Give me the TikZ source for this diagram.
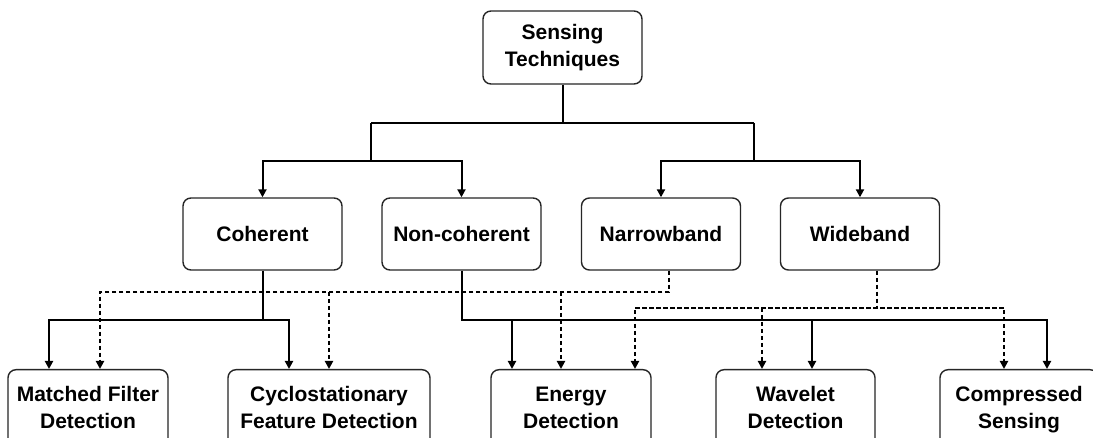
\documentclass[tikz,border=0pt]{standalone}
\usepackage{fontspec}
\usetikzlibrary{arrows.meta}
\newfontfamily\labelfont{Liberation Sans}
% two centred lines, raised by #1
\newcommand{\boxlines}[3]{\raisebox{#1}{\begin{tabular}{@{}c@{}}#2\\#3\end{tabular}}}

\begin{document}
\begin{tikzpicture}[x=1pt,y=-1pt,
  box/.style={draw=black!85, line width=1.4pt, rounded corners=8pt,
    minimum width=159pt, minimum height=72pt, inner sep=0pt, align=center,
    font=\labelfont\bfseries\fontsize{21}{27}\selectfont},
  leaf/.style={box, anchor=north, minimum height=80pt},
  link/.style={line width=2pt, black},
  hint/.style={line width=2pt, black, dash pattern=on 4pt off 3pt},
  tip/.style={-{Triangle[length=8pt,width=8pt]}}
]
\fill[white] (0,0) rectangle (1093,438);
\useasboundingbox (0,0) rectangle (1093,438);
\clip (0,0) rectangle (1093,438);

% boxes
\node[box, minimum height=73pt] (root) at (562.5,47.5) {\boxlines{-2.6pt}{Sensing}{Techniques}};
\node[box] (coh) at (262.5,234) {Coherent};
\node[box] (non) at (461.5,234) {Non-coherent};
\node[box] (nar) at (661,234) {Narrowband};
\node[box] (wid) at (860,234) {Wideband};

\node[leaf, minimum width=160pt] (mf)  at (88,369)   {\boxlines{7pt}{Matched Filter}{Detection}};
\node[leaf, minimum width=202pt] (cyc) at (329,369)  {\boxlines{2pt}{Cyclostationary}{Feature Detection}};
\node[leaf, minimum width=160pt] (en)  at (571,369)  {\boxlines{2pt}{Energy}{Detection}};
\node[leaf]                      (wav) at (795.5,369){\boxlines{2pt}{Wavelet}{Detection}};
\node[leaf, minimum width=158pt] (cs)  at (1019,369) {\boxlines{2pt}{Compressed}{Sensing}};

% root splits into two pairs
\coordinate (tl)  at (371,123);
\coordinate (tr)  at (754,123);
\coordinate (tlj) at (371,161);
\coordinate (trj) at (754,161);
\draw[link] (root.south) -- (root.south |- tl);
\draw[link] (tl) -- (tr);
\draw[link] (tl) -- (tlj);
\draw[link] (tr) -- (trj);
\draw[link,tip] (tlj) -| (coh.north);
\draw[link,tip] (tlj) -| (non.north);
\draw[link,tip] (trj) -| (nar.north);
\draw[link,tip] (trj) -| (wid.north);

% coherent methods
\coordinate (cL) at (49,320);
\coordinate (cR) at (289,320);
\draw[link] (coh.south) -- (coh.south |- cL);
\draw[link,tip] (cR) -- (cL) -- (cL |- mf.north);
\draw[link,tip] (cL) -- (cR) -- (cR |- cyc.north);

% non-coherent methods
\coordinate (nE) at (512,320);
\coordinate (nW) at (812,320);
\coordinate (nC) at (1047,320);
\draw[link,tip] (non.south) |- (nC) -- (nC |- cs.north);
\draw[link,tip] (nE) -- (nE |- en.north);
\draw[link,tip] (nW) -- (nW |- wav.north);

% narrowband methods
\coordinate (dM) at (100,292);
\coordinate (dC) at (329,292);
\coordinate (dE) at (561,292);
\draw[hint,tip] ([xshift=8pt]nar.south) |- (dM) -- (dM |- mf.north);
\draw[hint,tip] (dC) -- (dC |- cyc.north);
\draw[hint,tip] (dE) -- (dE |- en.north);

% wideband methods
\coordinate (wE) at (635,308);
\coordinate (wV) at (762,308);
\coordinate (wC) at (1004,308);
\draw[hint] ([xshift=17pt]wid.south) -- ([xshift=17pt]wid.south |- wE);
\draw[hint,tip] (wC) -- (wE) -- (wE |- en.north);
\draw[hint,tip] (wE) -- (wC) -- (wC |- cs.north);
\draw[hint,tip] (wV) -- (wV |- wav.north);
\end{tikzpicture}
\end{document}
